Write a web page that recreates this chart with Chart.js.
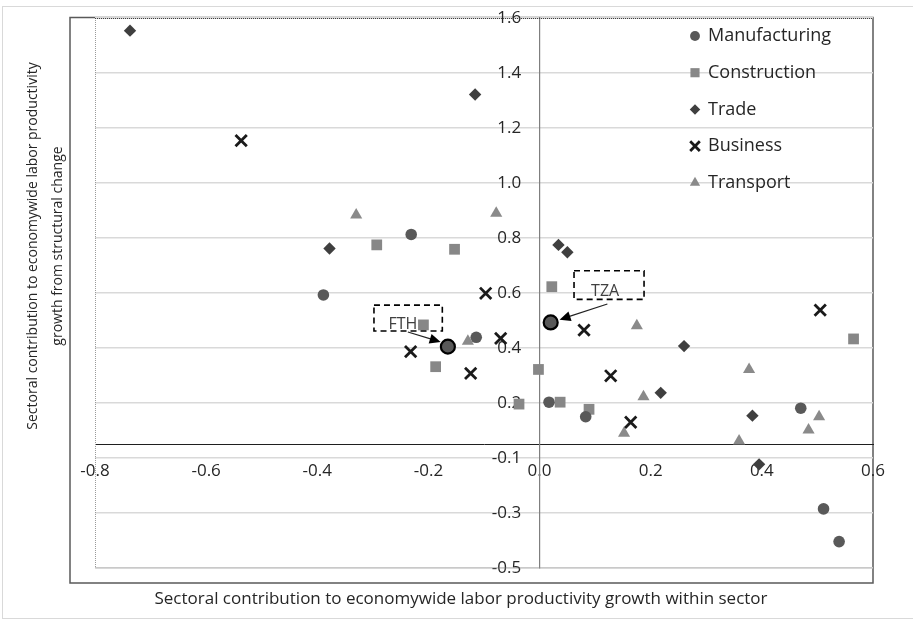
<!DOCTYPE html>
<html>
<head>
<meta charset="utf-8">
<script src="https://cdn.jsdelivr.net/npm/chart.js@4.4.1/dist/chart.umd.min.js"></script>
<style>
  html, body { margin: 0; padding: 0; background: #fff; }
  #contenedor { width: 913px; height: 620px; }
</style>
</head>
<body>
<div id="contenedor"><canvas id="grafico" width="913" height="620"></canvas></div>
<script>
// Datos (eje x: dentro del sector, eje y: cambio estructural)
const manufacturingX = [-0.389, -0.231, -0.114, 0.017, 0.083, 0.470, 0.511, 0.539];
const manufacturingY = [0.593, 0.813, 0.439, 0.203, 0.150, 0.181, -0.185, -0.304];

const constructionX = [-0.293, -0.153, 0.022, -0.209, -0.187, -0.002, -0.037, 0.037, 0.089, 0.565];
const constructionY = [0.775, 0.759, 0.623, 0.484, 0.332, 0.322, 0.196, 0.203, 0.177, 0.433];

const tradeX = [-0.737, -0.116, -0.378, 0.034, 0.050, 0.260, 0.218, 0.383, 0.395];
const tradeY = [1.554, 1.322, 0.762, 0.775, 0.748, 0.407, 0.237, 0.154, -0.023];

const businessX = [-0.537, -0.097, -0.232, -0.070, -0.124, 0.080, 0.128, 0.164, 0.505];
const businessY = [1.154, 0.599, 0.387, 0.435, 0.308, 0.465, 0.299, 0.130, 0.538];

const transportX = [-0.330, -0.078, -0.129, 0.175, 0.187, 0.152, 0.377, 0.503, 0.484, 0.359];
const transportY = [0.884, 0.890, 0.425, 0.481, 0.223, 0.090, 0.322, 0.150, 0.102, 0.062];

// Países resaltados
const highlightLabels = ['FTH', 'TZA'];
const highlightX = [-0.165, 0.020];
const highlightY = [0.405, 0.493];

// Etiquetas de los ejes tal como aparecen
const xTickLabels = ['-0.8', '-0.6', '-0.4', '-0.2', '0.0', '0.2', '0.4', '0.6'];
const yTickLabels = ['1.6', '1.4', '1.2', '1.0', '0.8', '0.6', '0.4', '0.2', '-0.1', '-0.3', '-0.5'];

const xTitle = 'Sectoral contribution to economywide labor productivity growth within sector';
const yTitle = ['Sectoral contribution to economywide labor productivity', 'growth from structural change'];

// Cuadros de texto con flecha (coordenadas en unidades de los ejes)
const callouts = [
    { text: 'FTH', box: [-0.298, 0.556, -0.175, 0.462], label: [-0.246, 0.486], from: [-0.237, 0.458], to: [-0.178, 0.422] },
    { text: 'TZA', box: [0.062, 0.681, 0.188, 0.577], label: [0.118, 0.604], from: [0.122, 0.560], to: [0.036, 0.503] }
];

const puntos = (xs, ys) => xs.map((x, i) => ({ x: x, y: ys[i] }));

const FUENTE = '"Open Sans", "Noto Sans", sans-serif';

const datasets = [
    { label: 'Manufacturing', data: puntos(manufacturingX, manufacturingY), pointStyle: 'circle', pointRadius: 5.8, backgroundColor: '#595959', borderColor: '#595959', borderWidth: 0 },
    { label: 'Construction', data: puntos(constructionX, constructionY), pointStyle: 'rect', pointRadius: 7.6, backgroundColor: '#878787', borderColor: '#878787', borderWidth: 0 },
    { label: 'Trade', data: puntos(tradeX, tradeY), pointStyle: 'rectRot', pointRadius: 6.2, backgroundColor: '#3f3f3f', borderColor: '#3f3f3f', borderWidth: 0 },
    { label: 'Business', data: puntos(businessX, businessY), pointStyle: 'crossRot', pointRadius: 8, backgroundColor: '#1a1a1a', borderColor: '#1a1a1a', borderWidth: 2.8 },
    { label: 'Transport', data: puntos(transportX, transportY), pointStyle: 'triangle', pointRadius: 7, backgroundColor: '#8a8a8a', borderColor: '#8a8a8a', borderWidth: 0 },
    { label: 'Highlighted', data: puntos(highlightX, highlightY), pointStyle: 'circle', pointRadius: 7, backgroundColor: '#595959', borderColor: '#000000', borderWidth: 2.2, enLeyenda: false }
];

// Los ejes cruzan dentro del área: no deben reservar espacio
const sinEspacio = s => {
    if (s.isHorizontal()) { s.height = 0; } else { s.width = 0; }
    s.paddingTop = 0; s.paddingBottom = 0; s.paddingLeft = 0; s.paddingRight = 0;
};

// Fondo, marco exterior y borde punteado del área de trazado
const marcoPlugin = {
    id: 'marco',
    beforeDraw(chart) {
        const ctx = chart.ctx;
        const a = chart.chartArea;
        ctx.save();
        ctx.fillStyle = '#ffffff';
        ctx.fillRect(0, 0, chart.width, chart.height);
        ctx.strokeStyle = '#d9d9d9';
        ctx.lineWidth = 1;
        ctx.strokeRect(2.5, 6.5, chart.width + 10, chart.height - 8);
        ctx.strokeStyle = '#595959';
        ctx.lineWidth = 1.5;
        ctx.strokeRect(a.left - 25, a.top - 0.5, a.right - a.left + 25, a.bottom - a.top + 15.5);
        ctx.restore();
    },
    beforeDatasetsDraw(chart) {
        const ctx = chart.ctx;
        const a = chart.chartArea;
        ctx.save();
        ctx.lineWidth = 1;
        ctx.setLineDash([1, 1]);
        ctx.strokeStyle = '#9a9a9a';
        ctx.beginPath();
        ctx.moveTo(a.left + 0.5, a.top);
        ctx.lineTo(a.left + 0.5, a.bottom);
        ctx.lineTo(a.right, a.bottom);
        ctx.stroke();
        ctx.strokeStyle = '#404040';
        ctx.beginPath();
        ctx.moveTo(a.left, a.top + 0.5);
        ctx.lineTo(a.right, a.top + 0.5);
        ctx.stroke();
        ctx.restore();
    }
};

// Leyenda dentro del área de trazado
const leyendaPlugin = {
    id: 'leyenda',
    afterDatasetsDraw(chart) {
        const ctx = chart.ctx;
        const a = chart.chartArea;
        const x0 = a.right - 178;
        let y = a.top + 18;
        ctx.save();
        ctx.font = '18px ' + FUENTE;
        ctx.textBaseline = 'middle';
        ctx.textAlign = 'left';
        chart.data.datasets.forEach(ds => {
            if (ds.enLeyenda === false) return;
            ctx.fillStyle = ds.backgroundColor;
            ctx.strokeStyle = ds.borderColor;
            ctx.lineWidth = ds.borderWidth;
            ctx.setLineDash([]);
            if (Chart.helpers && Chart.helpers.drawPoint) {
                Chart.helpers.drawPoint(ctx, { pointStyle: ds.pointStyle, radius: ds.pointRadius * 0.85, rotation: 0, borderWidth: ds.borderWidth }, x0, y);
            } else {
                ctx.beginPath();
                ctx.arc(x0, y, 5, 0, Math.PI * 2);
                ctx.fill();
            }
            ctx.fillStyle = '#262626';
            ctx.fillText(ds.label, x0 + 13, y);
            y += 36.7;
        });
        ctx.restore();
    }
};

// Cuadros punteados con flechas y títulos de ejes
const anotacionesPlugin = {
    id: 'anotaciones',
    afterDatasetsDraw(chart) {
        const ctx = chart.ctx;
        const sx = chart.scales.x;
        const sy = chart.scales.y;
        const px = v => sx.getPixelForValue(v);
        const py = v => sy.getPixelForValue(v);
        ctx.save();
        callouts.forEach(c => {
            ctx.setLineDash([6, 4]);
            ctx.strokeStyle = '#000000';
            ctx.lineWidth = 1.6;
            const x1 = px(c.box[0]), y1 = py(c.box[1]), x2 = px(c.box[2]), y2 = py(c.box[3]);
            ctx.strokeRect(x1, y1, x2 - x1, y2 - y1);
            ctx.setLineDash([]);
            ctx.font = '16px ' + FUENTE;
            ctx.fillStyle = '#404040';
            ctx.textAlign = 'center';
            ctx.textBaseline = 'middle';
            ctx.fillText(c.text, px(c.label[0]), py(c.label[1]));
            // flecha
            const fx = px(c.from[0]), fy = py(c.from[1]), tx = px(c.to[0]), ty = py(c.to[1]);
            const ang = Math.atan2(ty - fy, tx - fx);
            ctx.strokeStyle = '#222222';
            ctx.lineWidth = 1.2;
            ctx.beginPath();
            ctx.moveTo(fx, fy);
            ctx.lineTo(tx - 8 * Math.cos(ang), ty - 8 * Math.sin(ang));
            ctx.stroke();
            ctx.fillStyle = '#000000';
            ctx.beginPath();
            ctx.moveTo(tx, ty);
            ctx.lineTo(tx - 11 * Math.cos(ang) + 5 * Math.sin(ang), ty - 11 * Math.sin(ang) - 5 * Math.cos(ang));
            ctx.lineTo(tx - 11 * Math.cos(ang) - 5 * Math.sin(ang), ty - 11 * Math.sin(ang) + 5 * Math.cos(ang));
            ctx.closePath();
            ctx.fill();
        });
        ctx.restore();
    },
    afterDraw(chart) {
        const ctx = chart.ctx;
        const a = chart.chartArea;
        ctx.save();
        ctx.fillStyle = '#262626';
        ctx.textAlign = 'center';
        ctx.textBaseline = 'middle';
        ctx.font = '17px ' + FUENTE;
        ctx.fillText(xTitle, 461, a.bottom + 31);
        ctx.font = '14px ' + FUENTE;
        ctx.translate(0, 246);
        ctx.rotate(-Math.PI / 2);
        ctx.fillText(yTitle[0], 0, 33);
        ctx.fillText(yTitle[1], 0, 58);
        ctx.restore();
    }
};

const fuenteTicks = { family: FUENTE, size: 17 };

const grafico = new Chart(document.getElementById('grafico').getContext('2d'), {
    type: 'scatter',
    data: { datasets: datasets },
    options: {
        responsive: false,
        animation: false,
        layout: { padding: { left: 95, top: 18, right: 40, bottom: 52 } },
        plugins: {
            legend: { display: false },
            tooltip: { enabled: false }
        },
        scales: {
            x: {
                type: 'linear',
                position: { y: 0.05 },
                min: -0.8,
                max: 0.6,
                afterFit: sinEspacio,
                grid: { display: false, drawTicks: false },
                border: { display: true, color: '#1f1f1f', width: 1 },
                ticks: {
                    stepSize: 0.2,
                    padding: 17,
                    color: '#262626',
                    font: fuenteTicks,
                    maxRotation: 0,
                    autoSkip: false,
                    callback: v => xTickLabels[Math.round((v + 0.8) / 0.2)]
                }
            },
            y: {
                type: 'linear',
                position: { x: 0 },
                min: -0.4,
                max: 1.6,
                afterFit: sinEspacio,
                grid: { display: true, drawTicks: false, color: '#d9d9d9', lineWidth: 1.5 },
                border: { display: true, color: '#7f7f7f', width: 1.2 },
                ticks: { display: false, stepSize: 0.2 }
            },
            // eje auxiliar solo para las etiquetas, un poco a la izquierda del eje vertical
            yEtiquetas: {
                type: 'linear',
                axis: 'y',
                position: { x: -0.033 },
                min: -0.4,
                max: 1.6,
                afterFit: sinEspacio,
                grid: { display: false, drawTicks: false },
                border: { display: false },
                ticks: {
                    stepSize: 0.2,
                    color: '#262626',
                    font: fuenteTicks,
                    autoSkip: false,
                    callback: v => yTickLabels[Math.round((1.6 - v) / 0.2)]
                }
            }
        }
    },
    plugins: [marcoPlugin, leyendaPlugin, anotacionesPlugin]
});
</script>
</body>
</html>
